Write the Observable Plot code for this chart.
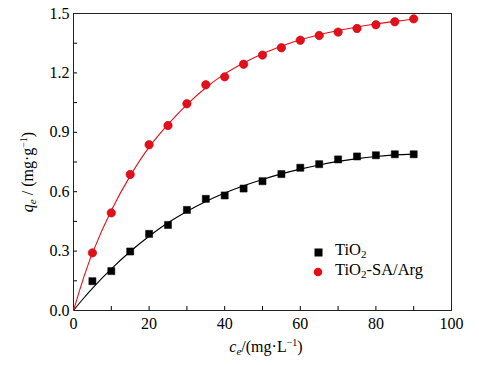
<!DOCTYPE html>
<html><head><meta charset="utf-8">
<script src="https://cdn.jsdelivr.net/npm/d3@7"></script>
<script src="https://cdn.jsdelivr.net/npm/@observablehq/plot@0.6"></script>
<style>
body{margin:0;background:#fff}
#c{position:relative;width:479px;height:365px;font-family:"Liberation Serif",serif}
#legend{position:absolute;left:311px;top:242px;font-size:16.5px;line-height:20px;color:#000}
#legend .row{display:flex;align-items:center;height:20px}
#legend .sym{width:14px;display:flex;justify-content:center;margin-right:10px}
</style>
</head><body>
<div id="c"></div>
<script>
const ce = [5,10,15,20,25,30,35,40,45,50,55,60,65,70,75,80,85,90];
const qTiO2 = [0.148,0.199,0.298,0.387,0.432,0.508,0.564,0.581,0.616,0.653,0.689,0.721,0.739,0.763,0.778,0.784,0.789,0.789];
const qSA = [0.291,0.493,0.687,0.837,0.934,1.044,1.14,1.18,1.244,1.29,1.327,1.365,1.389,1.406,1.424,1.443,1.458,1.473];
const fitX = [0,2.5,5,10,15,20,25,30,35,40,45,50,55,60,65,70,75,80,85,90];
const fitTiO2 = [0,0.058,0.112,0.21,0.298,0.375,0.443,0.5,0.55,0.593,0.63,0.662,0.69,0.714,0.735,0.753,0.767,0.778,0.786,0.79];
const fitSA = [0,0.155,0.29,0.505,0.68,0.825,0.94,1.04,1.125,1.195,1.25,1.297,1.335,1.367,1.393,1.414,1.432,1.447,1.46,1.472];
const xTicks = [0,20,40,60,80,100];
const xMinor = [0,10,20,30,40,50,60,70,80,90,100];
const yTicks = [0,0.3,0.6,0.9,1.2,1.5];
const yMinor = [0,0.15,0.3,0.45,0.6,0.75,0.9,1.05,1.2,1.35,1.5];

const black = "#000";
const red = "#e3101a";

const pts = ce.map((c,i)=>({c, q1:qTiO2[i], q2:qSA[i]}));
const fit = fitX.map((c,i)=>({c, f1:fitTiO2[i], f2:fitSA[i]}));

const chart = Plot.plot({
  width: 479, height: 365,
  marginLeft: 73, marginRight: 28, marginTop: 13, marginBottom: 55,
  style: {fontFamily: '"Liberation Serif", serif', fontSize: "16px", background: "#fff", color: "#000"},
  x: {domain: [0,100]},
  y: {domain: [0,1.5]},
  marks: [
    Plot.axisX({ticks: xMinor, tickSize: -4, tickFormat: () => "", label: null}),
    Plot.axisX({ticks: xTicks, tickSize: 0, tickPadding: 7, tickFormat: d => String(d), label: null, fontSize: 16}),
    Plot.axisY({ticks: yMinor, tickSize: -4, tickFormat: () => "", label: null}),
    Plot.axisY({ticks: yTicks, tickSize: 0, tickPadding: 4, tickFormat: d3.format(".1f"), label: null, fontSize: 16}),
    Plot.frame({stroke: "#222", strokeWidth: 1}),
    Plot.line(fit, {x: "c", y: "f1", stroke: black, strokeWidth: 1.1, curve: "catmull-rom"}),
    Plot.line(fit, {x: "c", y: "f2", stroke: red, strokeWidth: 1.1, curve: "catmull-rom"}),
    Plot.dot(pts, {x: "c", y: "q1", symbol: "square", r: 4, fill: black, stroke: black, strokeWidth: 0.5}),
    Plot.dot(pts, {x: "c", y: "q2", symbol: "circle", r: 4.2, fill: red, stroke: "#c00010", strokeWidth: 0.6})
  ]
});
document.getElementById("c").appendChild(chart);

const svg = d3.select(chart);
function label(sel, main, sub, rest) {
  sel.attr("text-anchor", "start").attr("font-size", 16).attr("font-family", '"Liberation Serif", serif').attr("fill", "#000");
  sel.append("tspan").attr("font-style", "italic").text(main);
  sel.append("tspan").attr("font-style", "italic").attr("font-size", 11).attr("dy", 3).text("e");
  sel.append("tspan").attr("dy", -3).text(rest);
  sel.append("tspan").attr("font-size", 10).attr("dy", -6).text("−1");
  sel.append("tspan").attr("dy", 6).text(")");
  return sel.node().getComputedTextLength();
}
// x label
const xl = svg.append("text");
const wx = label(xl, "c", "e", "/(mg·L");
xl.attr("x", 266 - wx / 2).attr("y", 352);
// y label
const yl = svg.append("text");
const wy = label(yl, "q", "e", " / (mg·g");
yl.attr("transform", `translate(33,${172 + wy / 2}) rotate(-90)`);

// legend
const lg = document.createElement("div");
lg.id = "legend";
lg.innerHTML = `
<div class="row"><span class="sym"><svg width="9" height="9"><rect width="8" height="8" x="0.5" y="0.5" fill="${black}"/></svg></span><span>TiO<sub style="font-size:11px;vertical-align:-3px">2</sub></span></div>
<div class="row"><span class="sym"><svg width="10" height="10"><circle cx="5" cy="5" r="4.3" fill="${red}"/></svg></span><span>TiO<sub style="font-size:11px;vertical-align:-3px">2</sub>-SA/Arg</span></div>`;
document.getElementById("c").appendChild(lg);
</script>
</body></html>
